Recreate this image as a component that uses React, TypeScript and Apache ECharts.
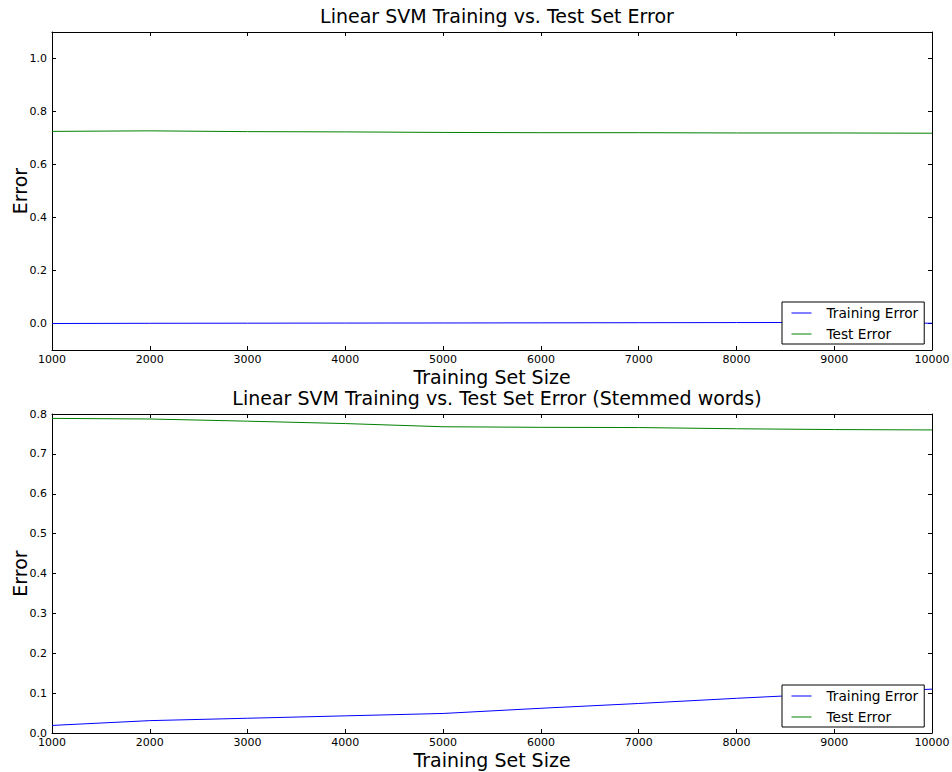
import React, { useEffect, useRef } from "react";
import * as echarts from "echarts";

const trainingSizes = [1000, 2000, 3000, 4000, 5000, 6000, 7000, 8000, 9000, 10000];
const topTrainingError = [0.0, 0.0008, 0.0012, 0.0016, 0.002, 0.0025, 0.003, 0.0035, 0.004, 0.001];
const topTestError = [0.725, 0.727, 0.724, 0.723, 0.721, 0.72, 0.72, 0.719, 0.719, 0.718];
const bottomTrainingError = [0.019, 0.031, 0.037, 0.043, 0.049, 0.062, 0.074, 0.087, 0.099, 0.11];
const bottomTestError = [0.789, 0.7875, 0.782, 0.776, 0.768, 0.7666, 0.766, 0.763, 0.761, 0.76];
const topYTicks = [0.0, 0.2, 0.4, 0.6, 0.8, 1.0];
const seriesNames = ["Training Error", "Test Error"];
const titles = ["Linear SVM Training vs. Test Set Error", "Linear SVM Training vs. Test Set Error (Stemmed words)"];

const FONT = "DejaVu Sans";
const BLUE = "#0000ff";
const GREEN = "#008000";

export default function App() {
  const ref = useRef<HTMLDivElement>(null);
  useEffect(() => {
    if (!ref.current) return;
    const chart = echarts.init(ref.current, null, { renderer: "svg" });
    const pair = (a: number[]) => trainingSizes.map((x, i) => [x, a[i]]);
    const tickInside = () => ({ show: true, inside: true, length: 4, lineStyle: { color: "#000", width: 1 } });
    const mkX = (grid: number, showLabel: boolean, position: string) => ({
      type: "value",
      gridIndex: grid,
      position,
      min: 1000,
      max: 10000,
      interval: 1000,
      name: showLabel ? "Training Set Size" : "",
      nameLocation: "middle",
      nameGap: 17,
      nameMoveOverlap: false,
      nameTextStyle: { fontSize: 19, color: "#000", fontFamily: FONT },
      axisLine: { show: true, onZero: false, lineStyle: { color: "#000", width: 1 } },
      axisTick: tickInside(),
      axisLabel: { show: showLabel, fontSize: 11, color: "#000", margin: 4, fontFamily: FONT, formatter: (v: number) => String(v) },
      splitLine: { show: false },
    });
    const option: any = {
      animation: false,
      backgroundColor: "#fff",
      textStyle: { fontFamily: FONT },
      title: [
        { text: titles[0], left: 492, textAlign: "center", top: 1, textStyle: { fontSize: 19, fontWeight: "normal", color: "#000", fontFamily: FONT } },
        { text: titles[1], left: 492, textAlign: "center", top: 383, textStyle: { fontSize: 19, fontWeight: "normal", color: "#000", fontFamily: FONT } },
      ],
      grid: [
        { left: 52, top: 32, width: 880, height: 318, outerBoundsMode: "none", containLabel: false, show: false },
        { left: 52, top: 414, width: 880, height: 319, outerBoundsMode: "none", containLabel: false, show: false },
      ],
      legend: [0, 1].map((g) => ({
        data: seriesNames,
        orient: "vertical",
        left: 782,
        top: g === 0 ? 302 : 685,
        padding: [4, 6, 3, 9],
        itemWidth: 20,
        itemHeight: 12,
        itemGap: 7,
        borderColor: "#000",
        borderWidth: 1,
        backgroundColor: "#fff",
        itemStyle: { opacity: 0 },
        lineStyle: { width: 1 },
        textStyle: { fontSize: 13.7, color: "#000", fontFamily: FONT, padding: [0, 0, 0, 10] },
      })),
      xAxis: [mkX(0, true, "bottom"), mkX(0, false, "top"), mkX(1, true, "bottom"), mkX(1, false, "top")],
      yAxis: [
        {
          type: "value", gridIndex: 0, position: "left", min: -0.1, max: 1.1,
          name: "Error", nameLocation: "middle", nameGap: 23, nameMoveOverlap: false,
          nameTextStyle: { fontSize: 19, color: "#000", fontFamily: FONT },
          axisLine: { show: true, onZero: false, lineStyle: { color: "#000" } },
          axisTick: { ...tickInside(), customValues: topYTicks },
          axisLabel: { customValues: topYTicks, formatter: (v: number) => v.toFixed(1), fontSize: 11, color: "#000", margin: 5, fontFamily: FONT },
          splitLine: { show: false },
        },
        {
          type: "value", gridIndex: 0, position: "right", min: -0.1, max: 1.1,
          axisLine: { show: true, onZero: false, lineStyle: { color: "#000" } },
          axisTick: { ...tickInside(), customValues: topYTicks },
          axisLabel: { show: false, customValues: topYTicks },
          splitLine: { show: false },
        },
        {
          type: "value", gridIndex: 1, position: "left", min: 0, max: 0.8, interval: 0.1,
          name: "Error", nameLocation: "middle", nameGap: 23, nameMoveOverlap: false,
          nameTextStyle: { fontSize: 19, color: "#000", fontFamily: FONT },
          axisLine: { show: true, onZero: false, lineStyle: { color: "#000" } },
          axisTick: tickInside(),
          axisLabel: { formatter: (v: number) => v.toFixed(1), fontSize: 11, color: "#000", margin: 5, fontFamily: FONT },
          splitLine: { show: false },
        },
        {
          type: "value", gridIndex: 1, position: "right", min: 0, max: 0.8, interval: 0.1,
          axisLine: { show: true, onZero: false, lineStyle: { color: "#000" } },
          axisTick: tickInside(),
          axisLabel: { show: false },
          splitLine: { show: false },
        },
      ],
      series: [
        { name: seriesNames[0], type: "line", xAxisIndex: 0, yAxisIndex: 0, data: pair(topTrainingError), symbol: "none", lineStyle: { color: BLUE, width: 1 }, itemStyle: { color: BLUE }, z: 1 },
        { name: seriesNames[1], type: "line", xAxisIndex: 0, yAxisIndex: 0, data: pair(topTestError), symbol: "none", lineStyle: { color: GREEN, width: 1 }, itemStyle: { color: GREEN }, z: 1 },
        { name: seriesNames[0], type: "line", xAxisIndex: 2, yAxisIndex: 2, data: pair(bottomTrainingError), symbol: "none", lineStyle: { color: BLUE, width: 1 }, itemStyle: { color: BLUE }, z: 1 },
        { name: seriesNames[1], type: "line", xAxisIndex: 2, yAxisIndex: 2, data: pair(bottomTestError), symbol: "none", lineStyle: { color: GREEN, width: 1 }, itemStyle: { color: GREEN }, z: 1 },
      ],
    };
    chart.setOption(option);
    return () => chart.dispose();
  }, []);
  return <div ref={ref} style={{ position: "fixed", left: 0, top: 0, width: 952, height: 772 }} />;
}
